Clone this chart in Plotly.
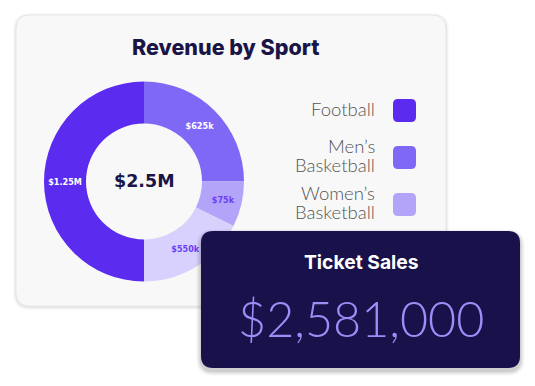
import plotly.graph_objects as go

# ---- data ----
sports = ["Football", "Men’s Basketball", "Women’s Basketball", "Other Sports"]
# slice sizes as drawn in the picture (in $k)
slice_values = [1250, 625, 184, 441]
slice_labels = ["$1.25M", "$625k", "$75k", "$550k"]
slice_colors = ["#5B2BF0", "#8068F7", "#B3A4FA", "#D9D1FD"]
label_colors = ["#FFFFFF", "#FFFFFF", "#6A3FF2", "#6A3FF2"]
total_label = "$2.5M"
chart_title = "Revenue by Sport"
ticket_title = "Ticket Sales"
ticket_value = 2581000

# page has an 8px body margin; figure covers pixel coords 8..535 / 8..386
OFF = 8
PW, PH = 535, 386
W, H = PW - OFF, PH - OFF
NAVY = "#1B1446"


def rr_path(x0, y0, x1, y1, r):
    return (f"M{x0+r},{y0} L{x1-r},{y0} Q{x1},{y0} {x1},{y0+r} "
            f"L{x1},{y1-r} Q{x1},{y1} {x1-r},{y1} "
            f"L{x0+r},{y1} Q{x0},{y1} {x0},{y1-r} "
            f"L{x0},{y0+r} Q{x0},{y0} {x0+r},{y0} Z")


fig = go.Figure()

# donut
cx, cy, R = 144, 181.5, 100
fig.add_trace(go.Pie(
    values=slice_values, labels=sports, text=slice_labels, textinfo="text",
    sort=False, direction="clockwise", rotation=180, hole=0.58,
    marker=dict(colors=slice_colors, line=dict(width=0)),
    textfont=dict(family="DejaVu Sans", size=8.1, color=label_colors, weight="bold"),
    insidetextorientation="horizontal", textposition="inside",
    showlegend=False, hoverinfo="skip",
    domain=dict(x=[(cx - R - OFF) / W, (cx + R - OFF) / W],
                y=[1 - (cy + R - OFF) / H, 1 - (cy - R - OFF) / H]),
))

shapes = []
# outer card shadow + card
for i, a in enumerate([0.025, 0.03, 0.04]):
    g = 3 - i
    shapes.append(dict(type="path", path=rr_path(16 - g, 15 - g + 1, 446 + g, 306 + g + 1, 14 + g),
                       xref="x", yref="y", fillcolor=f"rgba(0,0,0,{a})", line=dict(width=0), layer="below"))
shapes.append(dict(type="path", path=rr_path(16, 15, 446, 306, 14), xref="x", yref="y",
                   fillcolor="#F8F8F8", line=dict(color="#E8E8E8", width=1), layer="below"))

# legend squares
for i in range(3):
    yc = 110.5 + i * 47
    shapes.append(dict(type="path", path=rr_path(393, yc - 11.5, 416, yc + 11.5, 5), xref="x", yref="y",
                       fillcolor=slice_colors[i], line=dict(width=0), layer="below"))

# dark card shadow + card (above pie)
for i, a in enumerate([0.02, 0.03, 0.04, 0.05, 0.06]):
    g = 5 - i
    shapes.append(dict(type="path", path=rr_path(201 - g, 231 - g + 3, 520 + g, 368 + g + 3, 12 + g),
                       xref="x", yref="y", fillcolor=f"rgba(0,0,0,{a})", line=dict(width=0), layer="above"))
shapes.append(dict(type="path", path=rr_path(201, 231, 520, 368, 12), xref="x", yref="y",
                   fillcolor="#18114A", line=dict(width=0), layer="above"))

annotations = [
    dict(x=226, y=46.5, text=chart_title, showarrow=False, xref="x", yref="y",
         font=dict(family="Inter", size=21.5, color=NAVY, weight=800)),
    dict(x=cx, y=181, text=total_label, showarrow=False, xref="x", yref="y",
         font=dict(family="DejaVu Sans", size=17.5, color=NAVY, weight="bold")),
    dict(x=361, y=262, text=ticket_title, showarrow=False, xref="x", yref="y",
         font=dict(family="Inter", size=19.3, color="#FFFFFF", weight="bold")),
    dict(x=361, y=318, text=f"${ticket_value:,}", showarrow=False, xref="x", yref="y",
         font=dict(family="Lato", size=48.5, color="#9D8DF7", weight=300)),
]
for i in range(3):
    yc = 110.5 + i * 47
    words = sports[i].split(" ")
    n = len(words)
    for j, w in enumerate(words):
        yy = yc + (j - (n - 1) / 2) * 19 - 2
        annotations.append(dict(x=377, y=yy, text=w, showarrow=False, xref="x", yref="y",
                                xanchor="right", font=dict(family="Lato", size=18.5, color="#555555", weight=300)))

fig.update_layout(
    width=W, height=H, margin=dict(l=0, r=0, t=0, b=0),
    paper_bgcolor="#FFFFFF", plot_bgcolor="rgba(0,0,0,0)",
    xaxis=dict(range=[OFF, PW], visible=False, fixedrange=True),
    yaxis=dict(range=[PH, OFF], visible=False, fixedrange=True),
    shapes=shapes, annotations=annotations,
)

fig.write_html("out.html")
